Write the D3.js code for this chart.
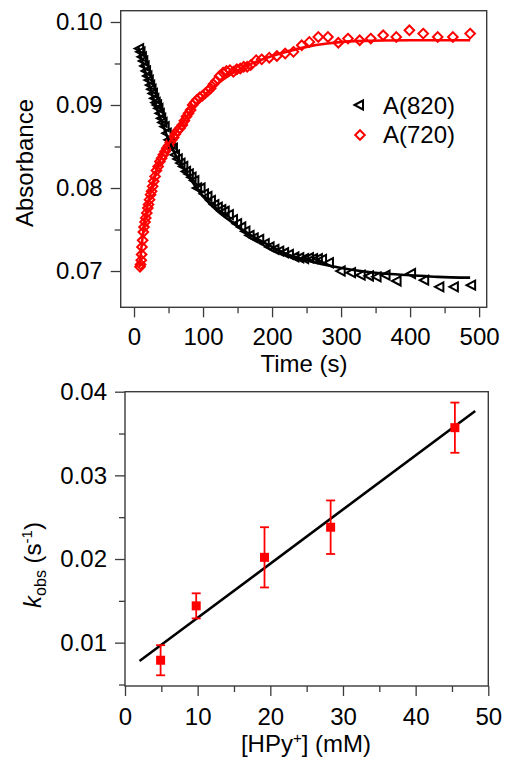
<!DOCTYPE html>
<html><head><meta charset="utf-8">
<script src="https://cdn.jsdelivr.net/npm/d3@7"></script>
<style>body{margin:0;background:#fff}svg{display:block}text{font-family:"Liberation Sans",Arial,sans-serif}</style>
</head><body>
<svg id="c" width="511" height="768"></svg>
<script>
// ---- Top panel data ----
const a820T = [6,8,10,12,14,16,18,20,22,24,26,28,30,32,34,36,38,40,43,46,49,52,55,58,62,66,70,74,78,82,86,90,95,100,105,110,115,120,125,130,136,142,148,154,160,166,172,180,188,195,202,209,216,223,231,238,245,252,258,265,271,281,298,313,327,339,350,363,379,400,419,441,462,487];
const a820A = [0.0968,0.0964,0.0958,0.0953,0.0947,0.0941,0.0935,0.0930,0.0924,0.0919,0.0914,0.0908,0.0903,0.0900,0.0896,0.0890,0.0884,0.0879,0.0874,0.0866,0.0858,0.0853,0.0848,0.0840,0.0835,0.0830,0.0826,0.0820,0.0817,0.0813,0.0809,0.0800,0.0800,0.0793,0.0790,0.0785,0.0780,0.0777,0.0774,0.0772,0.0768,0.0762,0.0757,0.0753,0.0748,0.0743,0.0740,0.0738,0.0733,0.0729,0.0726,0.0724,0.0722,0.0720,0.0717,0.0716,0.0715,0.0716,0.0715,0.0715,0.0714,0.0710,0.0700,0.0698,0.0695,0.0694,0.0693,0.0695,0.0688,0.0697,0.0689,0.0681,0.0681,0.0683];
const a720T = [8.7,9.5,10.5,11,11.5,12.5,13.5,14.5,16,17,18.5,20,21,22.5,24,25.5,27,28.5,30.5,32.5,35,37.5,40,42.5,45,47.5,50,52.5,55,57.5,60,63,66.5,70,73,76,79,82,85,88,91,95,99,103,107,111,115,119,124,129,134,139,144,149,154,159,164,169,177,185,196,207,219,231,243,254,267,281,296,310,327,343,361,380,399,419,440,462,487];
const a720A = [0.0705,0.0708,0.0713,0.0720,0.0729,0.0737,0.0747,0.0753,0.0759,0.0764,0.0770,0.0776,0.0780,0.0786,0.0792,0.0796,0.0802,0.0808,0.0814,0.0821,0.0826,0.0832,0.0836,0.0840,0.0844,0.0848,0.0851,0.0855,0.0858,0.0861,0.0865,0.0869,0.0872,0.0876,0.0881,0.0886,0.0890,0.0894,0.0900,0.0903,0.0906,0.0909,0.0911,0.0914,0.0917,0.0920,0.0925,0.0929,0.0935,0.0939,0.0941,0.0942,0.0940,0.0943,0.0944,0.0946,0.0946,0.0948,0.0954,0.0955,0.0957,0.0959,0.0962,0.0964,0.0972,0.0976,0.0982,0.0982,0.0975,0.0980,0.0978,0.0980,0.0984,0.0982,0.0990,0.0986,0.0982,0.0982,0.0986];
const fit820T = [6,10,20,30,40,50,60,70,80,100,120,140,160,180,200,220,250,280,320,360,400,440,487];
const fit820A = [0.0970,0.0958,0.0930,0.0903,0.0880,0.0858,0.0840,0.0826,0.0813,0.0790,0.0773,0.0760,0.0748,0.0738,0.0729,0.0721,0.0713,0.0707,0.0701,0.0697,0.0695,0.0693,0.0692];
const fit720T = [8,12,16,20,25,30,35,40,50,60,70,80,90,100,120,140,160,180,200,220,250,280,320,400,487];
const fit720A = [0.0705,0.0738,0.0763,0.0780,0.0798,0.0814,0.0828,0.0838,0.0853,0.0866,0.0878,0.0890,0.0901,0.0910,0.0925,0.0937,0.0946,0.0953,0.0959,0.0964,0.0970,0.0974,0.0977,0.0978,0.0978];
const topXTicks = [0,100,200,300,400,500];
const topYTicks = [0.07,0.08,0.09,0.10];
const legendLabels = ["A(820)","A(720)"];

// ---- Bottom panel data ----
const hpy = [4.9,9.8,19.2,28.3,45.4];
const kobs = [0.0079,0.0144,0.0202,0.0238,0.0357];
const kerr = [0.0018,0.0015,0.0036,0.0032,0.0030];
const fitHpy = [2,48.2];
const fitK = [0.0078,0.0377];
const botXTicks = [0,10,20,30,40,50];
const botYTicks = [0.01,0.02,0.03,0.04];

const svg = d3.select("#c");
const RED = "#ff0000";
const FRAME = "#3a3a3a";
const FS = 24;

function drawAxes(g, x, y, W, H, xt, xminor, yt, yminor, xfmt, yfmt, xpad, ypad){
  // minor ticks
  g.append("g").attr("transform",`translate(0,${H})`)
    .call(d3.axisBottom(x).tickValues(xminor).tickSize(6).tickFormat(""))
    .call(s=>{s.select(".domain").remove();s.selectAll("line").attr("stroke",FRAME).attr("stroke-width",1.3);});
  g.append("g")
    .call(d3.axisLeft(y).tickValues(yminor).tickSize(6).tickFormat(""))
    .call(s=>{s.select(".domain").remove();s.selectAll("line").attr("stroke",FRAME).attr("stroke-width",1.3);});
  g.append("g").attr("transform",`translate(0,${H})`)
    .call(d3.axisBottom(x).tickValues(xt).tickSize(10).tickPadding(xpad).tickFormat(xfmt))
    .call(s=>{s.select(".domain").remove();s.selectAll("line").attr("stroke",FRAME).attr("stroke-width",1.3);
      s.selectAll("text").attr("font-size",FS).attr("fill","#000").attr("font-family","Liberation Sans, Arial, sans-serif");});
  g.append("g")
    .call(d3.axisLeft(y).tickValues(yt).tickSize(10).tickPadding(ypad).tickFormat(yfmt))
    .call(s=>{s.select(".domain").remove();s.selectAll("line").attr("stroke",FRAME).attr("stroke-width",1.3);
      s.selectAll("text").attr("font-size",FS).attr("fill","#000").attr("font-family","Liberation Sans, Arial, sans-serif");});
  g.append("rect").attr("width",W).attr("height",H).attr("fill","none").attr("stroke",FRAME).attr("stroke-width",1.4);
}

// ---------- TOP PANEL ----------
{
  const L=120.7, T=10.7, W=366, H=296.6;
  const g = svg.append("g").attr("transform",`translate(${L},${T})`);
  const x = d3.scaleLinear().domain([-19.3,511]).range([0,W]);
  const y = d3.scaleLinear().domain([0.06563,0.10136]).range([H,0]);
  const defs = svg.append("defs");
  defs.append("clipPath").attr("id","clipTop").append("rect").attr("width",W).attr("height",H);
  const line = d3.line().x(d=>x(d[0])).y(d=>y(d[1])).curve(d3.curveMonotoneX);
  const tri = "M-4.5,0L4,-4.5L4,4.5Z";
  const dia = "M0,-4.8L4.8,0L0,4.8L-4.8,0Z";
  const p820 = a820T.map((t,i)=>[t,a820A[i]]);
  const p720 = a720T.map((t,i)=>[t,a720A[i]]);
  g.append("g").selectAll("path").data(p820).join("path")
    .attr("d",tri).attr("transform",d=>`translate(${x(d[0])+1},${y(d[1])})`)
    .attr("fill","none").attr("stroke","#000").attr("stroke-width",2);
  g.append("g").selectAll("path").data(p720).join("path")
    .attr("d",dia).attr("transform",d=>`translate(${x(d[0])},${y(d[1])})`)
    .attr("fill","none").attr("stroke",RED).attr("stroke-width",2);
  g.append("path").datum(fit820T.map((t,i)=>[t,fit820A[i]])).attr("d",line)
    .attr("fill","none").attr("stroke","#000").attr("stroke-width",2.6);
  g.append("path").datum(fit720T.map((t,i)=>[t,fit720A[i]])).attr("d",line)
    .attr("fill","none").attr("stroke",RED).attr("stroke-width",2.6);

  drawAxes(g,x,y,W,H,topXTicks,[50,150,250,350,450],topYTicks,[0.075,0.085,0.095],
    d3.format("d"),d3.format(".2f"),11,8);

  // legend
  const lg = svg.append("g");
  lg.append("path").attr("d",tri).attr("transform","translate(359,105)").attr("fill","none").attr("stroke","#000").attr("stroke-width",2);
  lg.append("path").attr("d",dia).attr("transform","translate(360,135)").attr("fill","none").attr("stroke",RED).attr("stroke-width",2);
  lg.append("text").attr("x",383).attr("y",113.5).attr("font-size",FS).text(legendLabels[0]);
  lg.append("text").attr("x",383).attr("y",143).attr("font-size",FS).text(legendLabels[1]);

  svg.append("text").attr("x",304).attr("y",372).attr("text-anchor","middle").attr("font-size",FS).text("Time (s)");
  svg.append("text").attr("transform","translate(33,163) rotate(-90)").attr("text-anchor","middle").attr("font-size",FS).text("Absorbance");
}

// ---------- BOTTOM PANEL ----------
{
  const L=125, T=391.7, W=363.3, H=294.3;
  const g = svg.append("g").attr("transform",`translate(${L},${T})`);
  const x = d3.scaleLinear().domain([0,50]).range([0,W]);
  const y = d3.scaleLinear().domain([0.00482,0.04]).range([H,0]);
  g.append("path").datum(fitHpy.map((v,i)=>[v,fitK[i]]))
    .attr("d",d3.line().x(d=>x(d[0])).y(d=>y(d[1])))
    .attr("fill","none").attr("stroke","#000").attr("stroke-width",2.6);
  const pts = hpy.map((v,i)=>({x:v,y:kobs[i],e:kerr[i]}));
  const eb = g.append("g").attr("stroke",RED).attr("stroke-width",1.8).attr("fill","none");
  pts.forEach(p=>{
    const cx=x(p.x), y1=y(p.y+p.e), y2=y(p.y-p.e);
    eb.append("line").attr("x1",cx).attr("x2",cx).attr("y1",y1).attr("y2",y2);
    eb.append("line").attr("x1",cx-4.5).attr("x2",cx+4.5).attr("y1",y1).attr("y2",y1);
    eb.append("line").attr("x1",cx-4.5).attr("x2",cx+4.5).attr("y1",y2).attr("y2",y2);
  });
  g.append("g").selectAll("rect").data(pts).join("rect")
    .attr("x",d=>x(d.x)-4.5).attr("y",d=>y(d.y)-4.5).attr("width",9).attr("height",9).attr("fill",RED);

  drawAxes(g,x,y,W,H,botXTicks,[5,15,25,35,45],botYTicks,[0.005,0.015,0.025,0.035],
    d3.format("d"),d3.format(".2f"),12,8);

  svg.append("text").attr("x",306).attr("y",751.5).attr("text-anchor","middle").attr("font-size",FS)
    .call(t=>{t.append("tspan").text("[HPy");
      t.append("tspan").attr("font-size",15).attr("dy",-9).text("+");
      t.append("tspan").attr("dy",9).text("] (mM)");});
  svg.append("text").attr("transform","translate(41,565) rotate(-90)").attr("text-anchor","middle").attr("font-size",FS)
    .call(t=>{t.append("tspan").attr("font-style","italic").text("k");
      t.append("tspan").attr("font-size",16).attr("dy",5).text("obs");
      t.append("tspan").attr("dy",-5).text(" (s");
      t.append("tspan").attr("font-size",15).attr("dy",-9).text("-1");
      t.append("tspan").attr("dy",9).text(")");});
}
</script>
</body></html>
